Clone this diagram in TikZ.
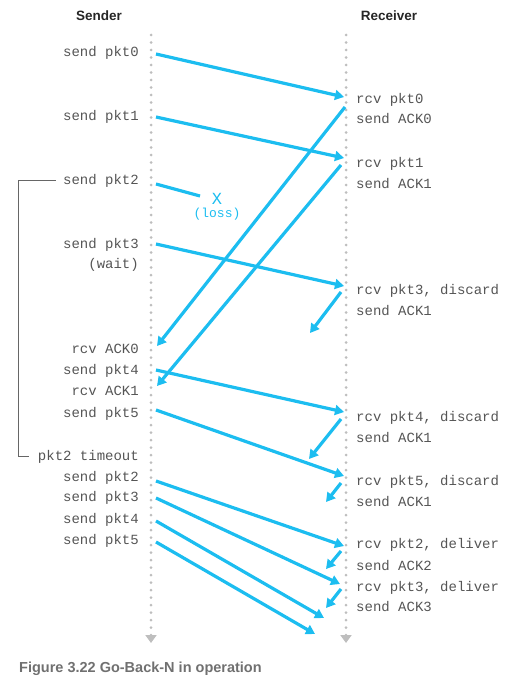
\documentclass[tikz,border=0pt]{standalone}
\usepackage{fontspec}
\setmainfont{Liberation Sans}
\setmonofont{Liberation Mono}
\usepackage{xcolor}
\usepackage{tikz}
\usetikzlibrary{arrows.meta,positioning}

\definecolor{gbnblue}{RGB}{28,189,240}
\definecolor{gbntext}{RGB}{85,85,85}
\definecolor{gbndot}{RGB}{190,190,190}
\definecolor{gbncap}{RGB}{112,112,112}

\tikzset{
	sndlabel/.style={anchor=base east, inner sep=0pt, text=gbntext, font=\ttfamily\fontsize{14}{16}\selectfont},
	rcvlabel/.style={anchor=base west, inner sep=0pt, text=gbntext, font=\ttfamily\fontsize{14}{16}\selectfont},
	head/.style={inner sep=0pt, text=black!85, font=\bfseries\fontsize{13.5}{16}\selectfont},
	msg/.style={gbnblue, line width=3.2pt, -{Triangle[length=9pt,width=10pt]}},
	lifeline/.style={gbndot, line width=3pt, line cap=round, dash pattern=on 0pt off 7.5pt, -{Triangle[length=8pt,width=11pt]}},
	timerline/.style={black!60, line width=0.9pt}
}

\begin{document}
\begin{tikzpicture}[x=1pt,y=-1pt]
		\useasboundingbox (0,0) rectangle (526,682);

		% headers and lifelines
		\node[head] (sender) at (99,16) {Sender};
		\node[head] (receiver) at (389,16) {Receiver};
		\coordinate (stop) at (151,35);
		\coordinate (sbot) at (151,643);
		\coordinate (rtop) at (346,35);
		\coordinate (rbot) at (346,643);
		\draw[lifeline] (stop) -- (sbot);
		\draw[lifeline] (rtop) -- (rbot);

		% sender side
		\node[sndlabel] (sp0) at (139,57) {send pkt0};
		\node[sndlabel] (sp1) at (139,121) {send pkt1};
		\node[sndlabel] (sp2) at (139,184) {send pkt2};
		\node[sndlabel] (sp3) at (139,248) {send pkt3};
		\node[sndlabel] (wait) at (139,268) {(wait)};
		\node[sndlabel] (ra0) at (139,353) {rcv ACK0};
		\node[sndlabel] (sp4) at (139,374) {send pkt4};
		\node[sndlabel] (ra1) at (139,395) {rcv ACK1};
		\node[sndlabel] (sp5) at (139,417) {send pkt5};
		\node[sndlabel] (tmo) at (139,460) {pkt2 timeout};
		\node[sndlabel] (rs2) at (139,481) {send pkt2};
		\node[sndlabel] (rs3) at (139,501) {send pkt3};
		\node[sndlabel] (rs4) at (139,523) {send pkt4};
		\node[sndlabel] (rs5) at (139,544) {send pkt5};

		% receiver side
		\node[rcvlabel] (rp0) at (356,103) {rcv pkt0};
		\node[rcvlabel] (sa0) at (356,124) {send ACK0};
		\node[rcvlabel] (rp1) at (356,167) {rcv pkt1};
		\node[rcvlabel] (sa1) at (356,188) {send ACK1};
		\node[rcvlabel] (rp3) at (356,294) {rcv pkt3, discard};
		\node[rcvlabel] (sa1b) at (356,315) {send ACK1};
		\node[rcvlabel] (rp4) at (356,421) {rcv pkt4, discard};
		\node[rcvlabel] (sa1c) at (356,442) {send ACK1};
		\node[rcvlabel] (rp5) at (356,485) {rcv pkt5, discard};
		\node[rcvlabel] (sa1d) at (356,506) {send ACK1};
		\node[rcvlabel] (dp2) at (356,548) {rcv pkt2, deliver};
		\node[rcvlabel] (sa2) at (356,570) {send ACK2};
		\node[rcvlabel] (dp3) at (356,591) {rcv pkt3, deliver};
		\node[rcvlabel] (sa3) at (356,611) {send ACK3};

		% loss of pkt2
		\node[text=gbnblue, inner sep=0pt, font=\ttfamily\fontsize{17}{17}\selectfont] (x) at (217,199) {X};
		\node[below=3pt of x, text=gbnblue, inner sep=0pt, font=\ttfamily\fontsize{13}{14}\selectfont] (loss) {(loss)};

		% message end points
		\coordinate (s0) at (156,54);   \coordinate (r0) at (344,97);
		\coordinate (s1) at (156,117);  \coordinate (r1) at (344,158);
		\coordinate (s2) at (156,184);  \coordinate (lost) at (200,196);
		\coordinate (s3) at (156,244);  \coordinate (r3) at (344,286);
		\coordinate (s4) at (156,370);  \coordinate (r4) at (344,412);
		\coordinate (s5) at (156,410);  \coordinate (r5) at (344,476);
		\coordinate (t2) at (156,481);  \coordinate (u2) at (344,546);
		\coordinate (t3) at (156,498);  \coordinate (u3) at (340,584);
		\coordinate (t4) at (156,521);  \coordinate (u4) at (324,618);
		\coordinate (t5) at (156,542);  \coordinate (u5) at (315,634);
		\coordinate (a0) at (345,107);  \coordinate (k0) at (157,346);
		\coordinate (a1) at (341,165);  \coordinate (k1) at (157,386);
		\coordinate (a3) at (341,292);  \coordinate (k3) at (310,333);
		\coordinate (a4) at (341,419);  \coordinate (k4) at (309,459);
		\coordinate (a5) at (341,483);  \coordinate (k5) at (326,502);
		\coordinate (a6) at (341,551);  \coordinate (k6) at (326,569);
		\coordinate (a7) at (341,589);  \coordinate (k7) at (326,608);

		% packets
		\draw[msg] (s0) -- (r0);
		\draw[msg] (s1) -- (r1);
		\draw[msg, -] (s2) -- (lost);
		\draw[msg] (s3) -- (r3);
		\draw[msg] (s4) -- (r4);
		\draw[msg] (s5) -- (r5);
		\draw[msg] (t2) -- (u2);
		\draw[msg] (t3) -- (u3);
		\draw[msg] (t4) -- (u4);
		\draw[msg] (t5) -- (u5);

		% acks
		\draw[msg] (a0) -- (k0);
		\draw[msg] (a1) -- (k1);
		\draw[msg] (a3) -- (k3);
		\draw[msg] (a4) -- (k4);
		\draw[msg] (a5) -- (k5);
		\draw[msg] (a6) -- (k6);
		\draw[msg] (a7) -- (k7);

		% timer
		\draw[timerline] ([xshift=-7pt]sp2.west) -| ([xshift=-19pt]tmo.west) -- ([xshift=-9pt]tmo.west);

		\node[anchor=west, inner sep=0pt, text=gbncap, font=\bfseries\fontsize{14.5}{16}\selectfont] (caption) at (19,669) {Figure 3.22 Go-Back-N in operation};
	\end{tikzpicture}
\end{document}
